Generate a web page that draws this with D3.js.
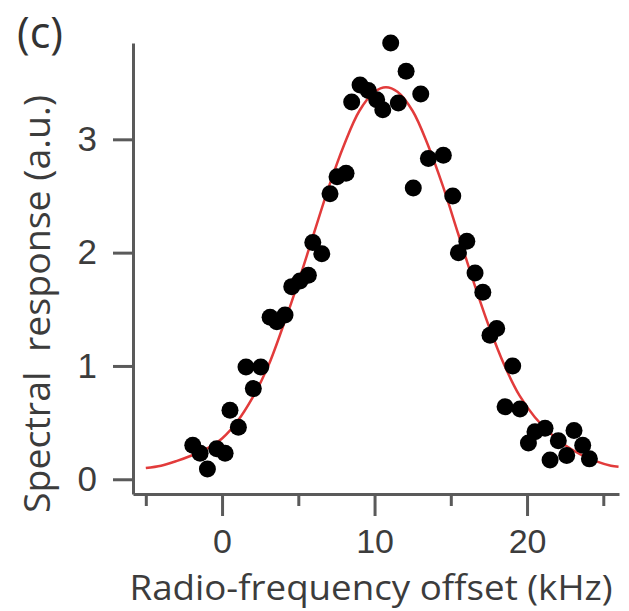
<!DOCTYPE html>
<html>
<head>
<meta charset="utf-8">
<script src="https://cdn.jsdelivr.net/npm/d3@7"></script>
<style>
  html, body { margin: 0; padding: 0; background: #fff; }
  svg { display: block; font-family: "Open Sans", "DejaVu Sans", sans-serif; }
</style>
</head>
<body>
<script>
// measured points (kHz, a.u.)
const offsetKHz = [-1.92, -1.44, -0.96, -0.35, 0.20, 0.52, 1.07, 1.57, 2.05, 2.54,
  3.15, 3.59, 4.13, 4.57, 5.11, 5.66, 5.95, 6.54, 7.08, 7.54,
  8.13, 8.50, 9.05, 9.59, 10.14, 10.54, 11.06, 11.56, 12.07, 12.54,
  13.03, 13.53, 14.51, 15.13, 15.50, 16.05, 16.59, 17.10, 17.57, 18.01,
  18.56, 19.06, 19.54, 20.09, 20.52, 21.18, 21.51, 22.05, 22.60, 23.08,
  23.65, 24.09]
const response = [0.30, 0.23, 0.09, 0.27, 0.23, 0.61, 0.46, 0.99, 0.80, 0.99,
  1.43, 1.39, 1.45, 1.70, 1.75, 1.80, 2.09, 1.99, 2.52, 2.67,
  2.70, 3.33, 3.48, 3.43, 3.35, 3.26, 3.85, 3.32, 3.60, 2.57,
  3.40, 2.83, 2.86, 2.50, 2.00, 2.10, 1.82, 1.65, 1.27, 1.33,
  0.64, 1.00, 0.62, 0.32, 0.42, 0.45, 0.17, 0.34, 0.21, 0.43,
  0.30, 0.18]

// red fit curve
const fitX = [-5, -4, -3, -2, -1, 0, 1, 2, 3, 4, 5, 6, 7, 8, 9, 10, 10.75,
  11.5, 12.5, 13.5, 14.5, 15.5, 16.5, 17.5, 18.5, 19.5, 20.5, 21.5, 22.5, 23.5, 24.5, 25.5, 26]
const fitY = [0.10, 0.12, 0.16, 0.21, 0.27, 0.36, 0.51, 0.72, 0.99, 1.35, 1.74, 2.16, 2.58, 2.95, 3.25, 3.42, 3.46,
  3.42, 3.25, 2.95, 2.58, 2.16, 1.74, 1.35, 1.01, 0.74, 0.55, 0.41, 0.30, 0.22, 0.16, 0.12, 0.11]

const xMajor = [0, 10, 20]
const xMinor = [-5, 5, 15, 25]
const yTicks = [0, 1, 2, 3]

const W = 629, H = 611
const axisColor = '#5a5a5a', textColor = '#3c3c3c'

const svg = d3.select('body').append('svg')
  .attr('width', W)
  .attr('height', H)

const x = d3.scaleLinear().domain([-5.84, 26.03]).range([133, 619])
const y = d3.scaleLinear().domain([-0.13, 3.85]).range([494, 43])

// y axis
const gy = svg.append('g')
  .attr('transform', 'translate(133,0)')
  .call(d3.axisLeft(y).tickValues(yTicks).tickSize(20).tickSizeOuter(0).tickPadding(16).tickFormat(d3.format('d')))
gy.selectAll('path, line').attr('stroke', axisColor).attr('stroke-width', 3)
gy.selectAll('text').attr('font-size', 35).attr('fill', textColor)

// x axis, major + minor ticks
const gx = svg.append('g')
  .attr('transform', 'translate(0,494)')
  .call(d3.axisBottom(x).tickValues(xMajor).tickSize(22).tickSizeOuter(0).tickPadding(13).tickFormat(d3.format('d')))
gx.selectAll('path, line').attr('stroke', axisColor).attr('stroke-width', 3)
gx.selectAll('text').attr('font-size', 34).attr('fill', textColor)

const gxm = svg.append('g')
  .attr('transform', 'translate(0,494)')
  .call(d3.axisBottom(x).tickValues(xMinor).tickSize(12).tickSizeOuter(0).tickFormat(''))
gxm.select('path').remove()
gxm.selectAll('line').attr('stroke', axisColor).attr('stroke-width', 3)

// fit line
const line = d3.line()
  .x((d, i) => x(fitX[i]))
  .y((d, i) => y(d))
  .curve(d3.curveCatmullRom)

svg.append('path')
  .datum(fitY)
  .attr('d', line)
  .attr('fill', 'none')
  .attr('stroke', '#e23b3b')
  .attr('stroke-width', 2.5)

// points
svg.selectAll('circle')
  .data(response)
  .enter()
  .append('circle')
  .attr('cx', (d, i) => x(offsetKHz[i]))
  .attr('cy', d => y(d))
  .attr('r', 8.5)
  .attr('fill', '#000')

// labels
svg.append('text')
  .attr('x', 371).attr('y', 600)
  .attr('text-anchor', 'middle')
  .attr('font-size', 34)
  .attr('fill', textColor)
  .attr('textLength', 483)
  .attr('lengthAdjust', 'spacingAndGlyphs')
  .text('Radio-frequency offset (kHz)')

svg.append('text')
  .attr('transform', 'translate(50,304) rotate(-90)')
  .attr('text-anchor', 'middle')
  .attr('font-size', 36)
  .attr('fill', textColor)
  .attr('textLength', 418)
  .attr('lengthAdjust', 'spacingAndGlyphs')
  .text('Spectral\u00a0 response (a.u.)')

svg.append('text')
  .attr('x', 17).attr('y', 48)
  .attr('font-size', 43)
  .attr('fill', '#333')
  .text('(c)')
</script>
</body>
</html>
